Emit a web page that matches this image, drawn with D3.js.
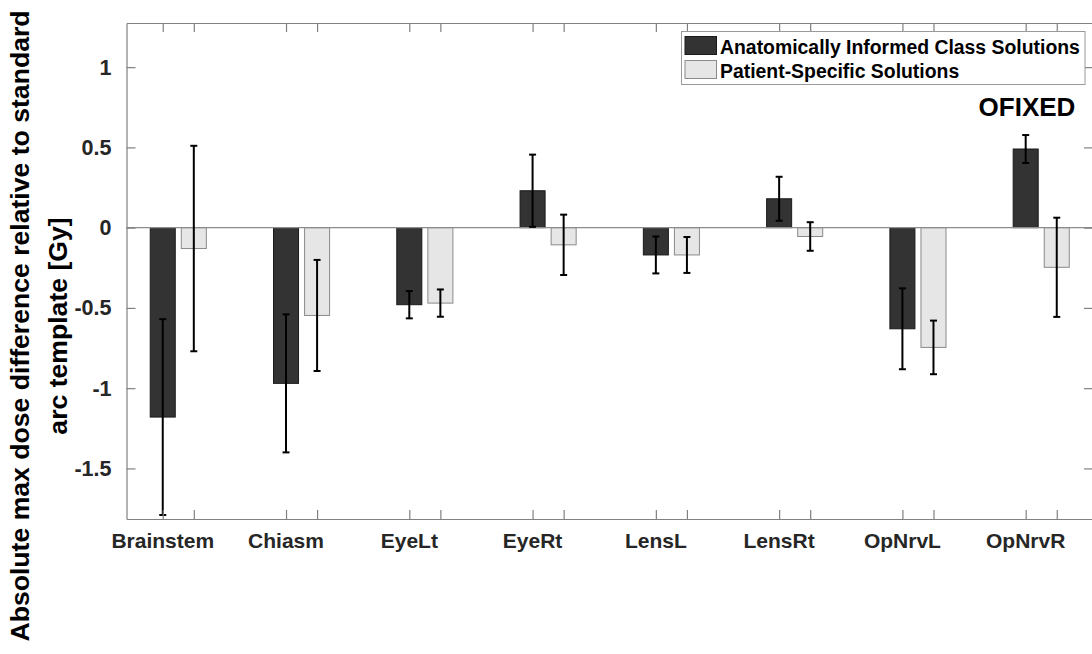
<!DOCTYPE html>
<html>
<head>
<meta charset="utf-8">
<script src="https://cdn.jsdelivr.net/npm/d3@7/dist/d3.min.js"></script>
<style>
  html, body { margin: 0; padding: 0; background: #fff; }
  svg { display: block; }
  text { font-family: "Liberation Sans", Arial, Helvetica, sans-serif; font-weight: bold; }
</style>
</head>
<body>
<svg id="chart" width="1092" height="654"></svg>
<script>
// Organs at risk
const categories = ["Brainstem", "Chiasm", "EyeLt", "EyeRt", "LensL", "LensRt", "OpNrvL", "OpNrvR"];

// Mean difference in max dose [Gy] and error-bar half-lengths
const classMean   = [-1.18, -0.97, -0.48, 0.23, -0.17, 0.18, -0.63, 0.49];
const classErr    = [0.61, 0.43, 0.085, 0.225, 0.115, 0.137, 0.252, 0.087];
const patientMean = [-0.13, -0.547, -0.47, -0.107, -0.17, -0.055, -0.746, -0.247];
const patientErr  = [0.64, 0.346, 0.085, 0.188, 0.112, 0.089, 0.167, 0.309];

const seriesNames = ["Anatomically Informed Class Solutions", "Patient-Specific Solutions"];
const yTicks = [-1.5, -1, -0.5, 0, 0.5, 1];
const yTickLabels = ["-1.5", "-1", "-0.5", "0", "0.5", "1"];
const annotation = "OFIXED";

const svg = d3.select("#chart");

const plot = { left: 126.5, right: 1093, top: 23, bottom: 519 };
const x = d3.scaleLinear().domain([-0.42, categories.length - 1 + 0.42]).range([plot.left, plot.right]);
const y = d3.scaleLinear().domain([-1.815, 1.275]).range([plot.bottom, plot.top]);

const offset = 0.126;   // half distance between paired bars (category units)
const barW = 0.203;     // bar width (category units)
const axisColor = "#808080";

const series = [
  { name: seriesNames[0], mean: classMean, err: classErr, dx: -offset, fill: "#333333", stroke: "#1a1a1a" },
  { name: seriesNames[1], mean: patientMean, err: patientErr, dx: offset, fill: "#e6e6e6", stroke: "#8a8a8a" }
];

// Bars
series.forEach(s => {
  svg.append("g").selectAll("rect").data(s.mean).join("rect")
    .attr("x", (d, i) => x(i + s.dx - barW / 2))
    .attr("width", x(barW) - x(0))
    .attr("y", d => y(Math.max(0, d)))
    .attr("height", d => Math.abs(y(d) - y(0)))
    .attr("fill", s.fill)
    .attr("stroke", s.stroke)
    .attr("stroke-width", 1);
});

// Zero baseline
svg.append("line")
  .attr("x1", plot.left).attr("x2", plot.right)
  .attr("y1", y(0)).attr("y2", y(0))
  .attr("stroke", "#8c8c8c").attr("stroke-width", 1.2);

// Error bars
series.forEach(s => {
  const g = svg.append("g").attr("stroke", "#000").attr("stroke-width", 2);
  s.mean.forEach((m, i) => {
    const cx = x(i + s.dx);
    const lo = y(m - s.err[i]), hi = y(m + s.err[i]);
    g.append("line").attr("x1", cx).attr("x2", cx).attr("y1", lo).attr("y2", hi);
    g.append("line").attr("x1", cx - 3.5).attr("x2", cx + 3.5).attr("y1", lo).attr("y2", lo);
    g.append("line").attr("x1", cx - 3.5).attr("x2", cx + 3.5).attr("y1", hi).attr("y2", hi);
  });
});

// Axes box with inward ticks on all sides
const barPositions = [];
categories.forEach((c, i) => { barPositions.push(i - offset, i + offset); });

const axG = svg.append("g");
const tickLen = 9;

const bottomAxis = d3.axisBottom(x).tickValues(barPositions).tickSizeInner(-tickLen).tickSizeOuter(0).tickFormat("");
const topAxis = d3.axisTop(x).tickValues(barPositions).tickSizeInner(-tickLen).tickSizeOuter(0).tickFormat("");
const leftAxis = d3.axisLeft(y).tickValues(yTicks).tickSizeInner(-tickLen).tickSizeOuter(0)
  .tickFormat((d, i) => yTickLabels[i]).tickPadding(6 + tickLen);
const rightAxis = d3.axisRight(y).tickValues(yTicks).tickSizeInner(-tickLen).tickSizeOuter(0).tickFormat("");

axG.append("g").attr("transform", `translate(0,${plot.bottom})`).call(bottomAxis);
axG.append("g").attr("transform", `translate(0,${plot.top})`).call(topAxis);
const yAx = axG.append("g").attr("transform", `translate(${plot.left},0)`).call(leftAxis);
axG.append("g").attr("transform", `translate(${plot.right},0)`).call(rightAxis);

axG.selectAll(".domain").attr("stroke", axisColor).attr("stroke-width", 1.2);
axG.selectAll(".tick line").attr("stroke", axisColor).attr("stroke-width", 1.2);

yAx.selectAll(".tick text")
  .attr("font-size", 21.5).attr("fill", "#262626")
  .style("font-family", "'Liberation Sans', Arial, sans-serif").style("font-weight", "bold");

// Category labels, centred under the first bar of each pair
svg.append("g").selectAll("text").data(categories).join("text")
  .attr("x", (d, i) => x(i - offset))
  .attr("y", 548)
  .attr("text-anchor", "middle")
  .attr("font-size", 21)
  .attr("fill", "#262626")
  .text(d => d);

// Y-axis title (two lines)
const yTitle = svg.append("text")
  .attr("transform", "translate(0,326) rotate(-90)")
  .attr("text-anchor", "middle")
  .attr("font-size", 26.6)
  .attr("fill", "#000");
yTitle.append("tspan").attr("x", 0).attr("y", 28.5).text("Absolute max dose difference relative to standard");
yTitle.append("tspan").attr("x", 0).attr("y", 66.5).text("arc template [Gy]");

// Annotation
svg.append("text")
  .attr("x", 1027).attr("y", 116)
  .attr("text-anchor", "middle")
  .attr("font-size", 26)
  .attr("fill", "#000")
  .text(annotation);

// Legend
const lg = svg.append("g");
lg.append("rect")
  .attr("x", 681.5).attr("y", 31.5).attr("width", 403.5).attr("height", 53)
  .attr("fill", "#fff").attr("stroke", "#9a9a9a").attr("stroke-width", 1);
series.forEach((s, k) => {
  const top = 36.5 + k * 24;
  lg.append("rect")
    .attr("x", 685).attr("y", top).attr("width", 31.5).attr("height", 18)
    .attr("fill", s.fill).attr("stroke", s.stroke).attr("stroke-width", 1);
  lg.append("text")
    .attr("x", 720).attr("y", top + 17)
    .attr("font-size", 19.4)
    .attr("fill", "#000")
    .text(s.name);
});
</script>
</body>
</html>
